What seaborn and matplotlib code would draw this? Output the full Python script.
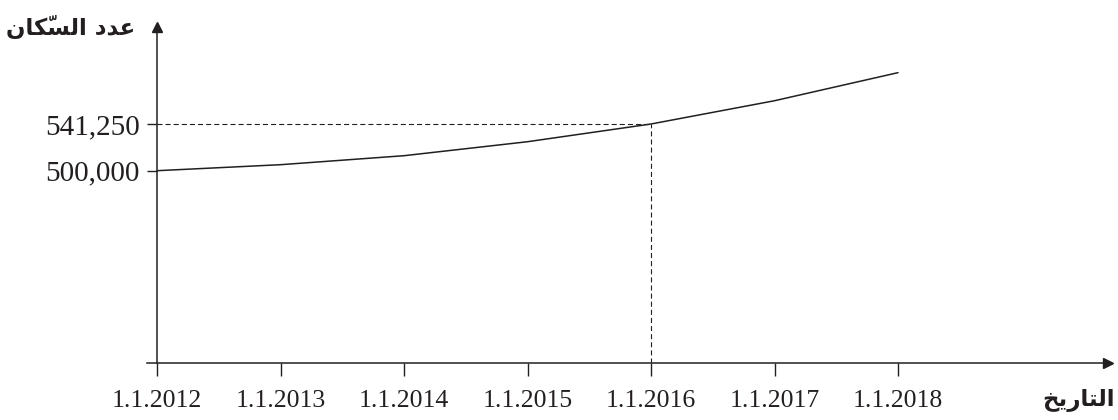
import matplotlib
matplotlib.use("Agg")
import matplotlib.pyplot as plt
import seaborn as sns
import pandas as pd

# Data
years = [2012, 2013, 2014, 2015, 2016, 2017, 2018]
population = [500000, 505300, 513250, 525600, 541250, 561800, 586600]
x_tick_labels = ["1.1.2012", "1.1.2013", "1.1.2014", "1.1.2015",
                 "1.1.2016", "1.1.2017", "1.1.2018"]
y_ticks = [500000, 541250]
y_tick_labels = ["500,000", "541,250"]
marked_year = 2016

# Arabic labels, written in shaped (presentation) forms and visual order,
# because matplotlib does no Arabic shaping itself.
# "عدد السكّان"
y_title = "\uFEE5\uFE8E\uFEDC\u0651\uFEB4\uFEDF\uFE8D \uFEA9\uFEAA\uFECB"
# "التاريخ"
x_title = "\uFEA6\uFEF3\uFEAD\uFE8E\uFE98\uFEDF\uFE8D"

INK = "#231f20"

sns.set_theme(style="white")
plt.rcParams["font.family"] = ["Liberation Serif", "DejaVu Serif"]

df = pd.DataFrame({"year": years, "population": population})

fig = plt.figure(figsize=(11.18, 4.2), dpi=100)
ax = fig.add_axes([147 / 1118, 57 / 420, 961 / 1118, 336 / 420])

sns.lineplot(data=df, x="year", y="population", ax=ax, color=INK,
             linewidth=1.1)

# scale of the reference: ~123.5 px per year, ~883 persons per px
x_left = years[0] - 10 / 123.5
x_right = years[0] + 951 / 123.5
y_bottom = population[0] - 192.3 * 883.3
y_top = population[0] + 143.7 * 883.3
ax.set_xlim(x_left, x_right)
ax.set_ylim(y_bottom, y_top)

# dashed guide lines to the marked point
marked_value = population[years.index(marked_year)]
ax.hlines(marked_value, years[0], marked_year, colors=INK,
          linestyles=(0, (4.5, 2.8)), linewidth=0.8)
ax.vlines(marked_year, y_bottom, marked_value, colors=INK,
          linestyles=(0, (4.5, 2.8)), linewidth=0.8)

# axes as arrows
for side in ["top", "right"]:
    ax.spines[side].set_visible(False)
ax.spines["left"].set_position(("data", years[0]))
for side in ["left", "bottom"]:
    ax.spines[side].set_color(INK)
    ax.spines[side].set_linewidth(1.1)
ax.plot(years[0], 1, "^", color=INK, markersize=6.5, clip_on=False,
        transform=ax.get_xaxis_transform())
ax.plot(1, y_bottom, ">", color=INK, markersize=6.5, clip_on=False,
        transform=ax.get_yaxis_transform())

ax.set_xticks(years)
ax.set_xticklabels(x_tick_labels)
ax.set_yticks(y_ticks)
ax.set_yticklabels(y_tick_labels)
ax.tick_params(axis="x", bottom=True, direction="out", length=9, width=1.0,
               color=INK, labelsize=18.5, labelcolor=INK, pad=10.5)
ax.tick_params(axis="y", left=True, direction="out", length=7.5, width=1.0,
               color=INK, labelsize=21, labelcolor=INK, pad=5)
ax.set_xlabel("")
ax.set_ylabel("")
ax.grid(False)

fig.text(135 / 1118, 1 - 28 / 420, y_title, ha="right", va="center",
         fontsize=16.5, fontweight="bold", color=INK, family=["DejaVu Sans"])
fig.text(1115 / 1118, 1 - 401 / 420, x_title, ha="right", va="center",
         fontsize=16.5, fontweight="bold", color=INK, family=["DejaVu Sans"])

fig.savefig("out.png", dpi=100)
